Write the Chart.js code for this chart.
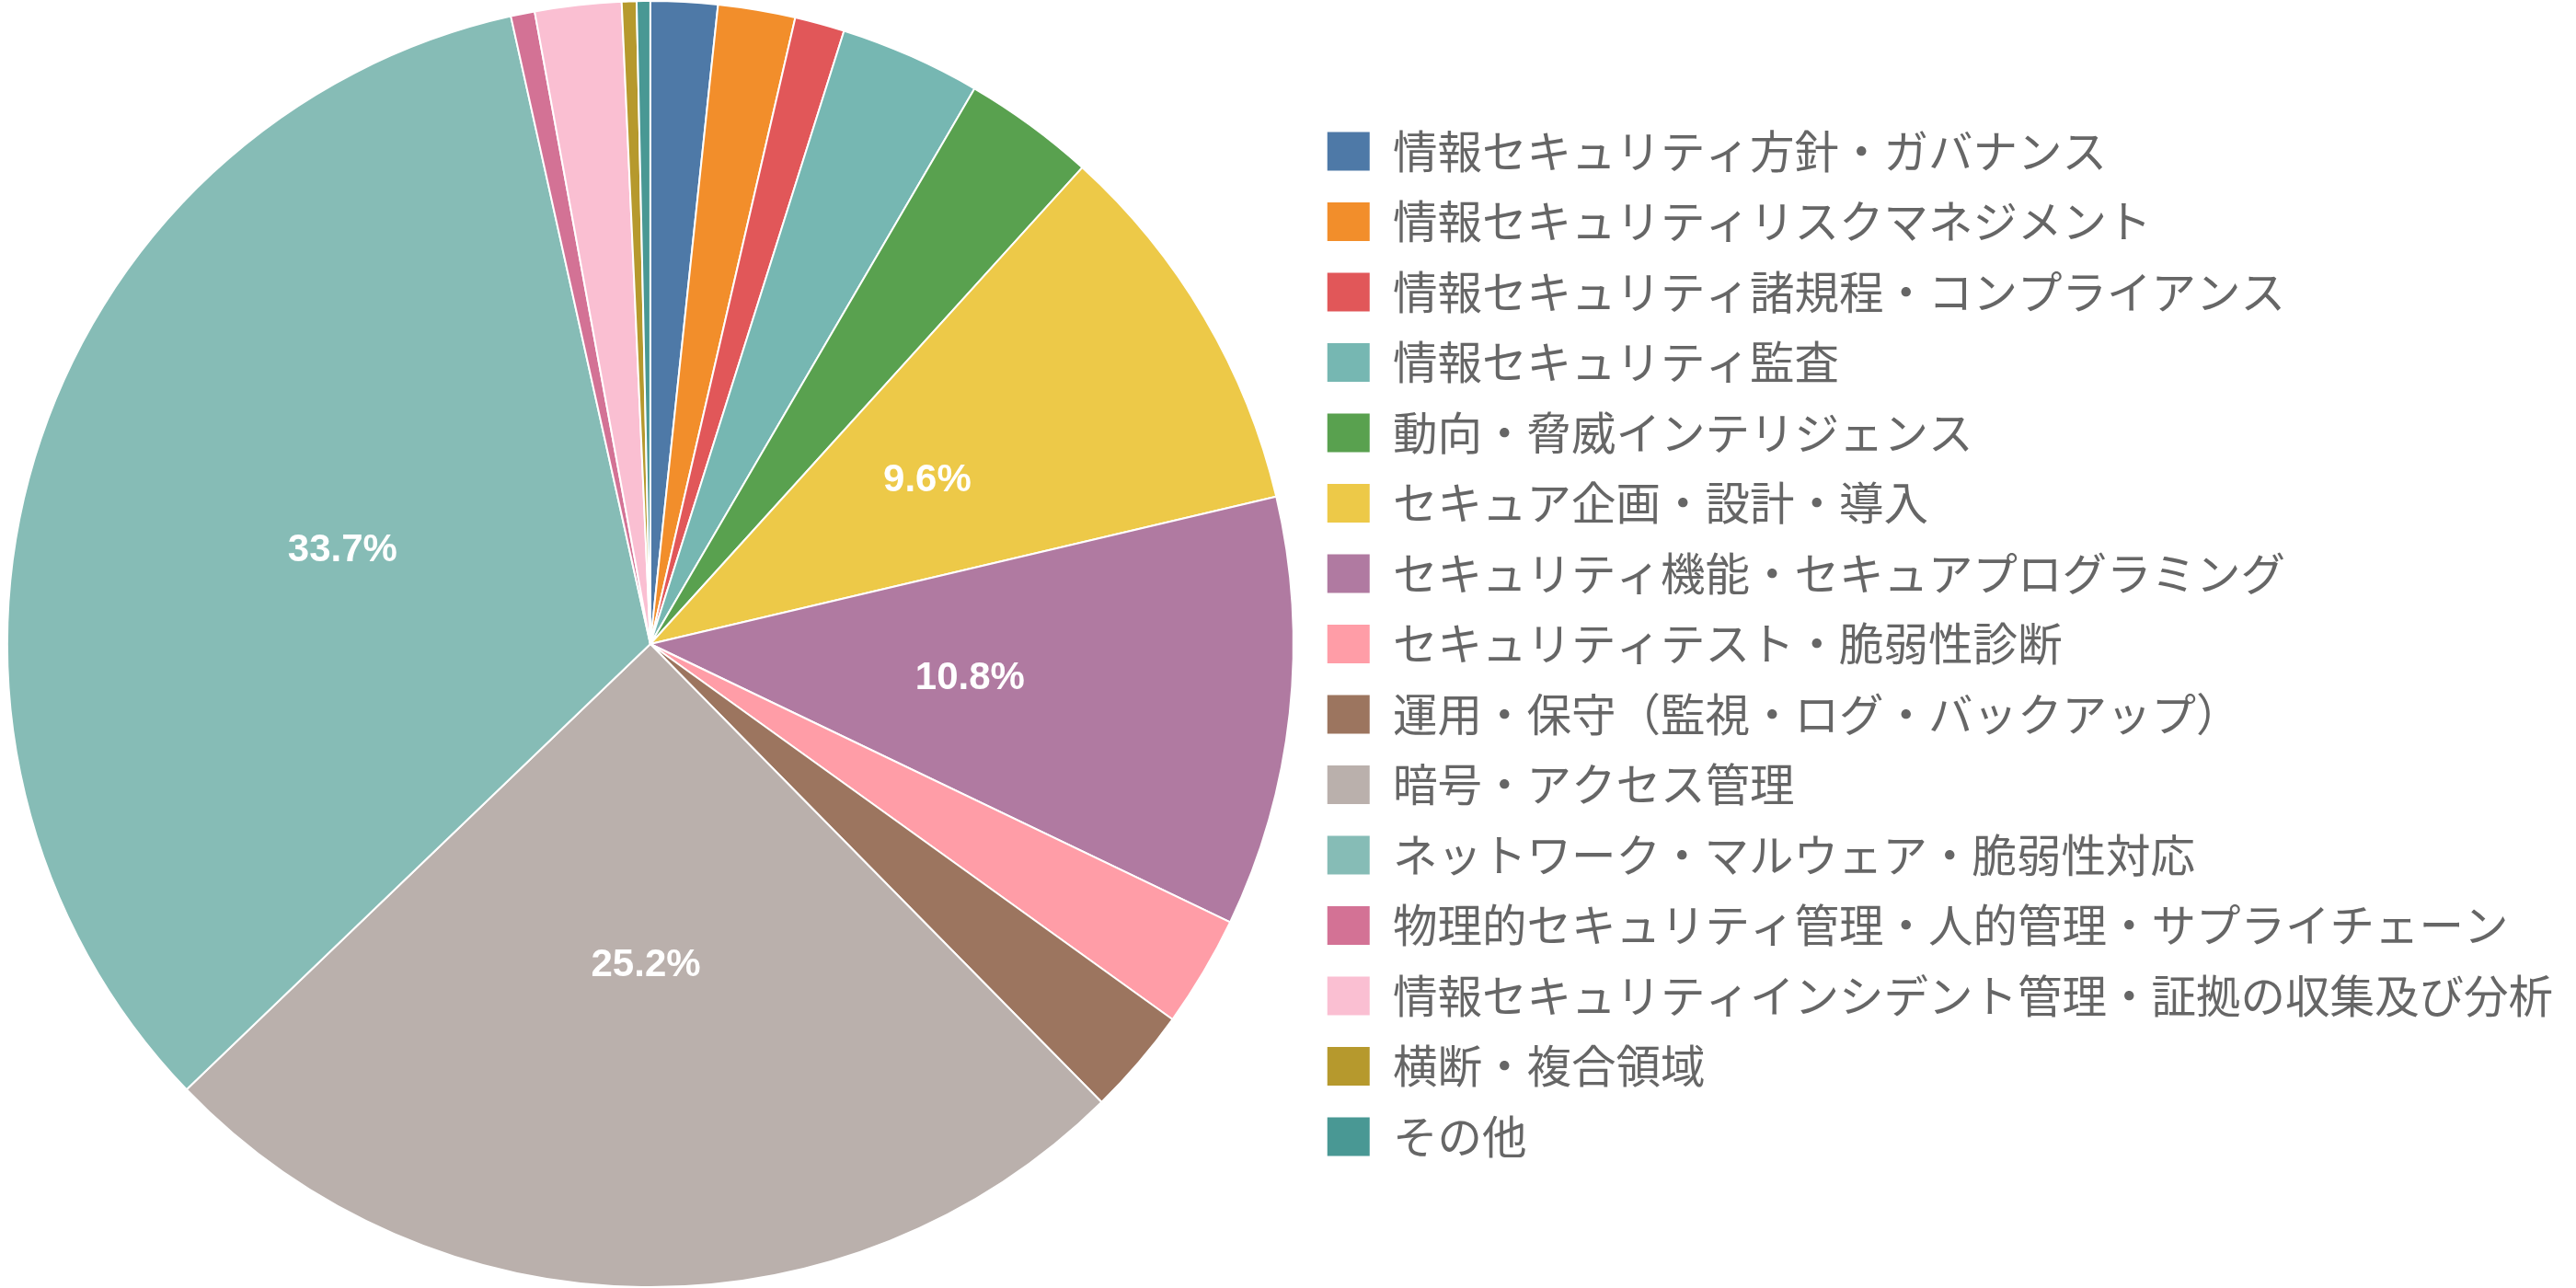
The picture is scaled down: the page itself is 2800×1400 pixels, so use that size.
<!DOCTYPE html>
<html lang="ja">
<head>
<meta charset="utf-8">
<script src="https://cdn.jsdelivr.net/npm/chart.js@4.4.1/dist/chart.umd.min.js"></script>
<style>
  html, body { margin: 0; padding: 0; background: #fff; }
  #wrap { width: 2800px; height: 1400px; }
</style>
</head>
<body>
<div id="wrap"><canvas id="c1"></canvas></div>
<script>
// 分野別の割合 (%)
const CATEGORIES = [
  '情報セキュリティ方針・ガバナンス',
  '情報セキュリティリスクマネジメント',
  '情報セキュリティ諸規程・コンプライアンス',
  '情報セキュリティ監査',
  '動向・脅威インテリジェンス',
  'セキュア企画・設計・導入',
  'セキュリティ機能・セキュアプログラミング',
  'セキュリティテスト・脆弱性診断',
  '運用・保守（監視・ログ・バックアップ）',
  '暗号・アクセス管理',
  'ネットワーク・マルウェア・脆弱性対応',
  '物理的セキュリティ管理・人的管理・サプライチェーン',
  '情報セキュリティインシデント管理・証拠の収集及び分析',
  '横断・複合領域',
  'その他',
];
const SHARES = [1.68, 1.94, 1.25, 3.54, 3.31, 9.6, 10.8, 2.8, 2.7, 25.2, 33.7, 0.6, 2.17, 0.37, 0.34];
const SLICE_COLORS = [
  '#4e79a7', '#f28e2b', '#e15759', '#76b7b2', '#59a14f',
  '#edc948', '#b07aa1', '#ff9da7', '#9c755f', '#bab0ac',
  '#86bcb6', '#d37295', '#fabfd2', '#b6992d', '#499894',
];
const LABEL_MIN = 5; // これ未満のスライスにはラベルを出さない

const FONT_JP = "'Noto Sans CJK JP', 'Liberation Sans', sans-serif";

// スライス中央に白抜きの割合ラベル
const sliceLabels = {
  id: 'sliceLabels',
  afterDatasetsDraw(chart) {
    const ctx = chart.ctx;
    const meta = chart.getDatasetMeta(0);
    ctx.save();
    ctx.fillStyle = '#fff';
    ctx.font = "bold 42px 'Liberation Sans', Arial, sans-serif";
    ctx.textAlign = 'center';
    ctx.textBaseline = 'middle';
    meta.data.forEach((arc, i) => {
      const v = SHARES[i];
      if (v < LABEL_MIN) return;
      const p = arc.tooltipPosition();
      ctx.fillText(v.toFixed(1) + '%', p.x, p.y);
    });
    ctx.restore();
  },
};

new Chart(document.getElementById('c1'), {
  type: 'pie',
  data: {
    labels: CATEGORIES,
    datasets: [{
      data: SHARES,
      backgroundColor: SLICE_COLORS,
      borderColor: '#fff',
      borderWidth: 2,
    }],
  },
  options: {
    responsive: true, maintainAspectRatio: false,
    animation: false,
    layout: { padding: { right: 15 } },
    plugins: {
      legend: {
        display: true, position: 'right', align: 'center',
        labels: {
          boxWidth: 48, boxHeight: 44, padding: 28,
          color: '#666',
          font: { family: FONT_JP, size: 48.5 },
        },
      },
      tooltip: { enabled: false },
    },
  },
  plugins: [sliceLabels],
});
</script>
</body>
</html>
